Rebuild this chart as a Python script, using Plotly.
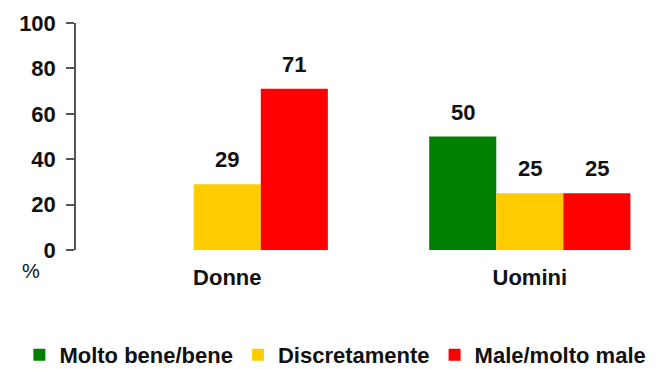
import plotly.graph_objects as go

# Survey results by gender (percent)
categories = ["Donne", "Uomini"]
series_names = ["Molto bene/bene", "Discretamente", "Male/molto male"]
molto_bene = [None, 50]
discretamente = [29, 25]
male = [71, 25]
colors = ["#008000", "#FFCC00", "#FF0000"]

FONT = "Liberation Sans, Arial"
INK = "#111111"

all_series = [molto_bene, discretamente, male]
n_series = len(all_series)
group_width = 1 - 0.335
bar_w = group_width / n_series

fig = go.Figure()
annotations = []
for s, (name, vals, col) in enumerate(zip(series_names, all_series, colors)):
    fig.add_trace(go.Bar(
        x=categories, y=vals, name=name,
        marker=dict(color=col, line=dict(width=0)),
        hoverinfo="skip",
    ))
    # value labels above each bar, placed at the bar's own value
    for c, v in enumerate(vals):
        if v is None:
            continue
        xpos = c - group_width / 2 + bar_w * (s + 0.5)
        annotations.append(dict(
            x=xpos, y=v, xref="x", yref="y", text=f"{v}",
            showarrow=False, yanchor="bottom", yshift=10,
            font=dict(family=FONT, size=22, color=INK, weight="bold"),
        ))

annotations.append(dict(
    text="%", xref="paper", yref="paper", x=0, y=0,
    xanchor="center", yanchor="middle",
    xshift=-45, yshift=-21, showarrow=False,
    font=dict(family=FONT, size=20, color=INK),
))

fig.update_layout(
    width=672, height=369,
    margin=dict(l=76, r=0, t=23, b=119, autoexpand=False),
    paper_bgcolor="white", plot_bgcolor="white",
    barmode="group", bargap=0.335, bargroupgap=0,
    font=dict(family=FONT, color=INK),
    showlegend=True,
    legend=dict(
        orientation="h", xref="paper", yref="paper",
        x=-0.095, xanchor="left", y=-0.462, yanchor="middle",
        font=dict(size=22, color=INK, weight="bold"),
        itemwidth=30, traceorder="normal",
    ),
    xaxis=dict(
        range=[-0.5, 1.47], showline=False, showgrid=False, zeroline=False,
        ticks="", ticklabelstandoff=12,
        tickfont=dict(size=22, color=INK, weight="bold"),
    ),
    yaxis=dict(
        range=[0, 100], tickvals=[0, 20, 40, 60, 80, 100],
        showline=True, linecolor="#555555", linewidth=1.5,
        ticks="outside", ticklen=8, tickcolor="#555555", tickwidth=1.5,
        showgrid=False, zeroline=False, ticklabelstandoff=6,
        tickfont=dict(size=22, color=INK, weight="bold"),
    ),
    annotations=annotations,
)

fig.write_html("out.html")
